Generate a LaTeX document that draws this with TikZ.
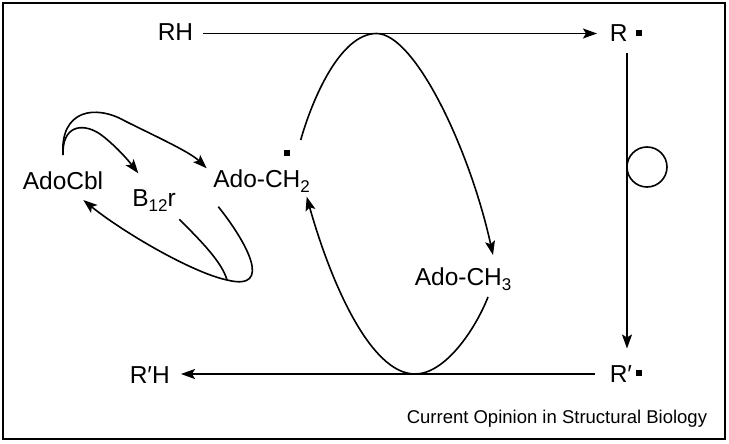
\documentclass[tikz,border=0pt]{standalone}
\usepackage{fontspec}
\setmainfont{Liberation Sans}
\usetikzlibrary{arrows.meta}
\newcommand\lowsub[1]{\raisebox{-5pt}{\fontsize{17}{20}\selectfont #1}}
\begin{document}
\begin{tikzpicture}[x=1pt,y=-1pt, line width=1.6pt,
  lbl/.style={inner sep=0pt, font=\fontsize{24.5}{28}\selectfont, anchor=base west},
  arr/.style={-{Stealth[length=14pt,width=10pt,inset=3pt]}},
  rad/.style={fill=black, draw=none, minimum size=6.5pt, inner sep=0pt},
  credit/.style={inner sep=0pt, anchor=base west, font=\fontsize{18.5}{22}\selectfont}]
\useasboundingbox (0,0) rectangle (729,444);
\draw[line width=1.8pt] (3,3) rectangle (725,439);
% labels
\node[lbl] (RH) at (157,41) {RH};
\node[lbl] (R) at (609,42) {R};
\node[rad] (Rdot) at (639,33) {};
\node[lbl] (RpH) at (129,383) {R′H};
\node[lbl] (Rp) at (609,382) {R′};
\node[rad] (Rpdot) at (639,373) {};
\node[lbl] (AdoCbl) at (22,189) {AdoCbl};
\node[lbl] (B12r) at (131.5,206) {B\lowsub{12}r};
\node[lbl] (AdoCH2) at (212.5,187) {Ado-CH\lowsub{2}};
\node[rad] (CH2dot) at (287,153) {};
\node[lbl] (AdoCH3) at (414,285) {Ado-CH\lowsub{3}};
\node[credit] (credit) at (406,423) {Current Opinion in Structural Biology};
% coordinates
\coordinate (rhE) at (203,33.5);
\coordinate (rW) at (597,33.5);
\coordinate (rS) at (627,53);
\coordinate (rpN) at (627,348.5);
\coordinate (rpW) at (595,374);
\coordinate (rphE) at (181,374);
\coordinate (ch2A) at (300.7,140);
\coordinate (ch3N) at (493,255);
\coordinate (ch3S) at (488,297);
\coordinate (ch2S) at (306.7,196.7);
\coordinate (cblN) at (63,155);
\coordinate (b12N) at (138.3,173.3);
\coordinate (ch2W) at (206.7,168.3);
\coordinate (ch2B) at (218.3,206.7);
\coordinate (join) at (227,280);
\coordinate (cblE) at (83.3,200);
\coordinate (b12S) at (179.3,219.3);
% straight arrows
\draw[arr] (rhE) -- (rW);
\draw[arr] (rS) -- (rpN);
\draw[arr] (rpW) -- (rphE);
\draw (647,167) circle (20);
% big loop
\draw[arr] (ch2A) .. controls (312,100) and (340,33.5) .. (376.5,33.5)
  .. controls (415,33.5) and (470,150) .. (ch3N);
\draw[arr] (ch3S) .. controls (475,330) and (445,374) .. (415,374)
  .. controls (370,374) and (330,280) .. (ch2S);
% left part
\draw[arr] (cblN) .. controls (60,110) and (95,104) .. (125,121)
  .. controls (155,136) and (190,152) .. (ch2W);
\draw[arr] (cblN) .. controls (62,126) and (82,122) .. (100,134)
  .. controls (115,145) and (128,160) .. (b12N);
\draw[arr] (ch2B) .. controls (245,240) and (275,292) .. (join)
  .. controls (190,272) and (120,230) .. (cblE);
\draw (b12S) .. controls (200,240) and (222,262) .. (join);
\end{tikzpicture}
\end{document}
